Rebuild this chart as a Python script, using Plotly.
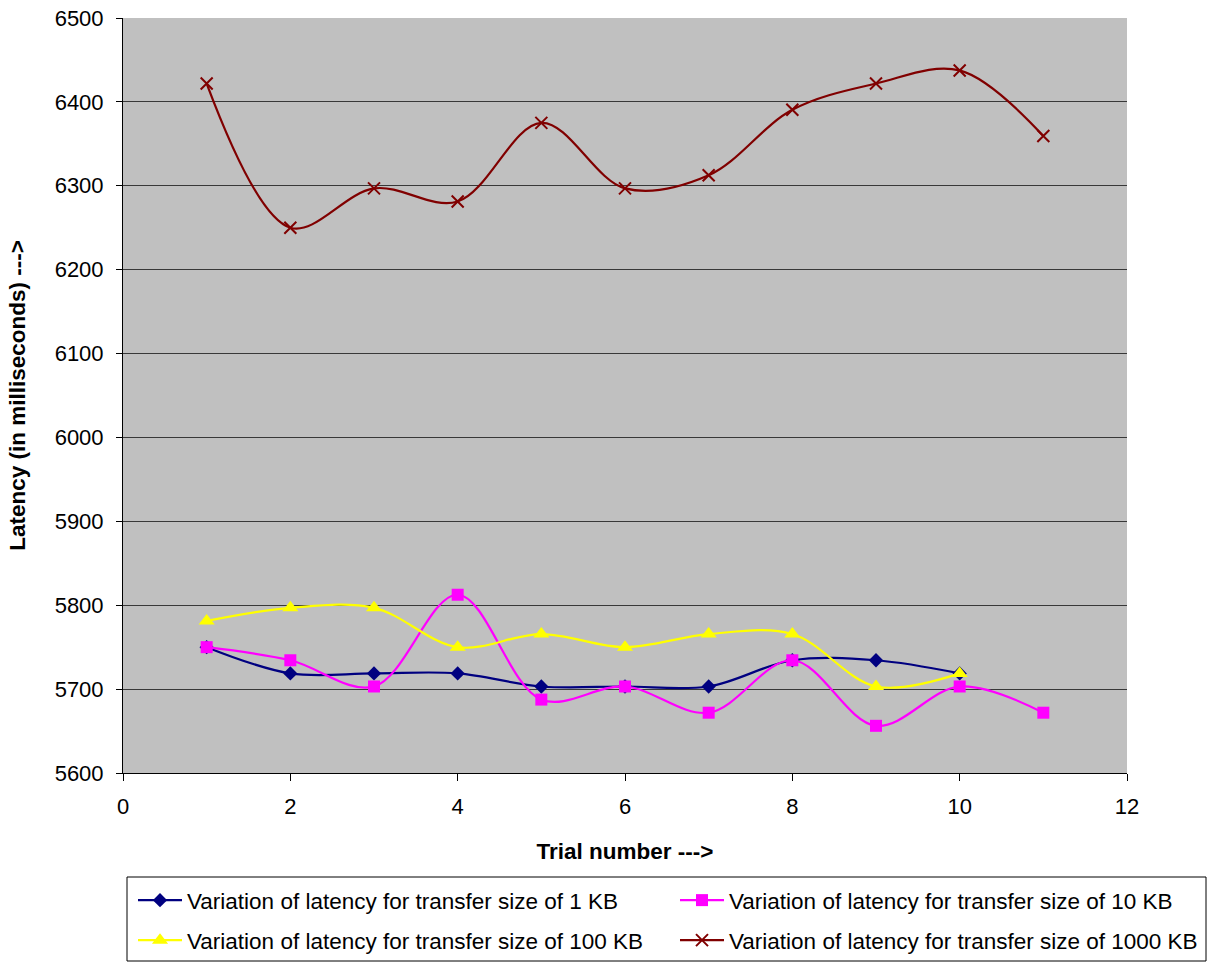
import plotly.graph_objects as go

trials_10 = [1, 2, 3, 4, 5, 6, 7, 8, 9, 10]
trials_11 = [1, 2, 3, 4, 5, 6, 7, 8, 9, 10, 11]

latency_1kb = [5750.0, 5718.75, 5718.75, 5718.75, 5703.125, 5703.125, 5703.125,
               5734.375, 5734.375, 5718.75]
latency_10kb = [5750.0, 5734.375, 5703.125, 5812.5, 5687.5, 5703.125, 5671.875,
                5734.375, 5656.25, 5703.125, 5671.875]
latency_100kb = [5781.25, 5796.875, 5796.875, 5750.0, 5765.625, 5750.0, 5765.625,
                 5765.625, 5703.125, 5718.75]
latency_1000kb = [6421.875, 6250.0, 6296.875, 6281.25, 6375.0, 6296.875, 6312.5,
                  6390.625, 6421.875, 6437.5, 6359.375]

series_names = [
    "Variation of latency for transfer size of 1 KB",
    "Variation of latency for transfer size of 10 KB",
    "Variation of latency for transfer size of 100 KB",
    "Variation of latency for transfer size of 1000 KB",
]

FONT = "Liberation Sans, Arial, sans-serif"
FS = 22
FS_TEXT = 22.5

# Plot-area geometry in pixels (used to place the legend grid and its frame)
W, H = 1207, 963
ML, MR, MT, MB = 123, 80, 18, 190
PW, PH = W - ML - MR, H - MT - MB


def px_x(x):
    return (x - ML) / PW


def px_y(y):
    return (H - MB - y) / PH


fig = go.Figure()

fig.add_trace(go.Scatter(
    x=trials_10, y=latency_1kb, name=series_names[0], mode="lines+markers",
    line=dict(color="#000080", width=2.2, shape="spline", smoothing=1.0),
    marker=dict(symbol="diamond", size=11, color="#000080"),
    legend="legend",
))
fig.add_trace(go.Scatter(
    x=trials_11, y=latency_10kb, name=series_names[1], mode="lines+markers",
    line=dict(color="#FF00FF", width=2.2, shape="spline", smoothing=1.0),
    marker=dict(symbol="square", size=12, color="#FF00FF"),
    legend="legend2",
))
fig.add_trace(go.Scatter(
    x=trials_10, y=latency_100kb, name=series_names[2], mode="lines+markers",
    line=dict(color="#FFFF00", width=2.2, shape="spline", smoothing=1.0),
    marker=dict(symbol="triangle-up", size=14, color="#FFFF00"),
    legend="legend3",
))
fig.add_trace(go.Scatter(
    x=trials_11, y=latency_1000kb, name=series_names[3], mode="lines+markers",
    line=dict(color="#800000", width=2.2, shape="spline", smoothing=1.0),
    marker=dict(symbol="x-thin", size=12, color="#800000",
                line=dict(color="#800000", width=2)),
    legend="legend4",
))

# One single-entry legend per series, laid out as a 2x2 grid
legend_common = dict(
    xanchor="left", yanchor="top",
    borderwidth=0, bgcolor="rgba(0,0,0,0)",
    font=dict(family=FONT, size=FS_TEXT, color="black"), itemwidth=44,
)
col_x = [133, 675]
row_y = [879, 919]

fig.update_layout(
    width=W, height=H,
    margin=dict(l=ML, r=MR, t=MT, b=MB, autoexpand=False),
    paper_bgcolor="white",
    plot_bgcolor="#C0C0C0",
    font=dict(family=FONT, size=FS, color="black"),
    showlegend=True,
    legend=dict(x=px_x(col_x[0]), y=px_y(row_y[0]), **legend_common),
    legend2=dict(x=px_x(col_x[1]), y=px_y(row_y[0]), **legend_common),
    legend3=dict(x=px_x(col_x[0]), y=px_y(row_y[1]), **legend_common),
    legend4=dict(x=px_x(col_x[1]), y=px_y(row_y[1]), **legend_common),
    shapes=[dict(
        type="rect", xref="paper", yref="paper",
        x0=px_x(127), x1=px_x(1206), y0=px_y(877), y1=px_y(961),
        line=dict(color="black", width=1), fillcolor="rgba(0,0,0,0)", layer="above",
    )],
)

fig.update_xaxes(
    range=[0, 12], dtick=2, tick0=0, showgrid=False, zeroline=False,
    showline=True, linecolor="black", linewidth=1, mirror=False, automargin=False,
    ticks="outside", ticklen=7, tickcolor="black", ticklabelstandoff=7,
    title=dict(text="<b>Trial number ---></b>", font=dict(size=FS_TEXT), standoff=24),
)
fig.update_yaxes(
    range=[5600, 6500], dtick=100, showgrid=True, gridcolor="#383838", gridwidth=1,
    zeroline=False, showline=True, linecolor="black", linewidth=1, automargin=False,
    ticks="outside", ticklen=6, tickcolor="black", ticklabelstandoff=8,
    title=dict(text="<b>Latency (in milliseconds) ---></b>", font=dict(size=FS_TEXT), standoff=22),
)

fig.write_html("out.html")
